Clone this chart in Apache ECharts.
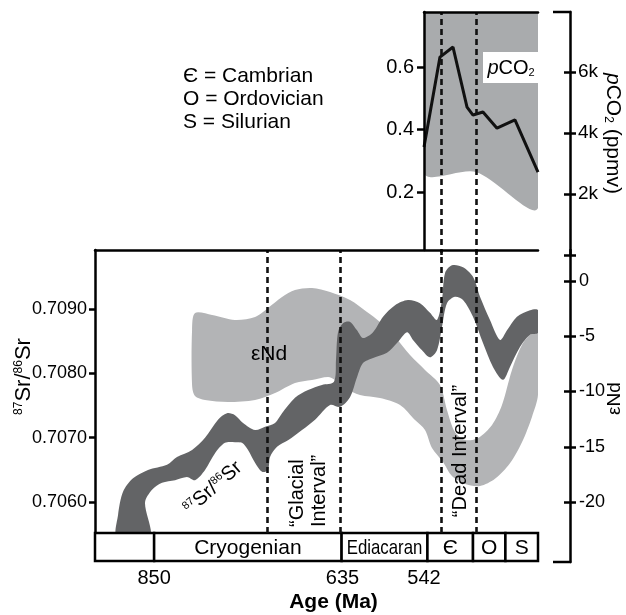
<!DOCTYPE html>
<html>
<head>
<meta charset="utf-8">
<script src="https://cdn.jsdelivr.net/npm/echarts@6/dist/echarts.min.js"></script>
<style>
  html, body { margin: 0; padding: 0; background: #fff; }
  #chart { width: 626px; height: 615px; }
</style>
</head>
<body>
<div id="chart"></div>
<script>
let font = '"Liberation Sans", Arial, Helvetica, sans-serif';

// age axis (Ma), older to the left
let ageMin = 411.8, ageMax = 917.5;
let ageTicks = [850, 635, 542];
let topAgeMax = 541.9;

// geological time scale bar
let periodNames = ['', 'Cryogenian', 'Ediacaran', 'Є', 'O', 'S'];
let periodStart = [917.5, 850, 636, 538, 486, 449];
let periodEnd = [850, 636, 538, 486, 449, 411.8];
let legendLines = ['Є = Cambrian', 'O = Ordovician', 'S = Silurian'];

// dashed interval boundaries
let dashedAges = [721, 637, 522.5, 482.5];
let topDashedAges = [522.5, 482.5];

// 87Sr/86Sr envelope: upper edge (young-ward), then lower edge back
let srBand = [
  [892.3, 0.70545], [891.2, 0.70580], [885.5, 0.70616], [874.1, 0.70637], [857.0, 0.70650],
  [835.3, 0.70658], [823.9, 0.70670], [806.7, 0.70681], [791.9, 0.70700], [777.1, 0.70728],
  [766.8, 0.70738], [757.7, 0.70735], [748.5, 0.70723], [734.8, 0.70712], [723.4, 0.70717],
  [712.0, 0.70723], [704.0, 0.70738], [689.2, 0.70762], [674.3, 0.70774], [658.4, 0.70782],
  [644.7, 0.70787], [642.4, 0.70821], [640.1, 0.70864], [634.4, 0.70878], [626.4, 0.70880],
  [618.4, 0.70867], [611.6, 0.70855], [600.1, 0.70864], [588.7, 0.70888], [575.0, 0.70906],
  [560.2, 0.70914], [546.5, 0.70909], [535.1, 0.70894], [527.1, 0.70883], [521.4, 0.70914],
  [517.9, 0.70956], [510.0, 0.70968], [497.4, 0.70965], [486.0, 0.70950], [478.0, 0.70919],
  [466.6, 0.70883], [455.2, 0.70852], [447.2, 0.70867], [435.8, 0.70888], [420.9, 0.70898],
  [411.8, 0.70898],
  [411.8, 0.70863], [420.9, 0.70860], [432.4, 0.70841], [443.8, 0.70810], [451.8, 0.70790],
  [463.2, 0.70810], [474.6, 0.70847], [486.0, 0.70888], [497.4, 0.70914], [506.6, 0.70919],
  [515.7, 0.70909], [521.4, 0.70872], [527.1, 0.70836], [535.1, 0.70825], [544.2, 0.70836],
  [554.5, 0.70852], [561.3, 0.70864], [572.8, 0.70847], [584.2, 0.70832], [600.1, 0.70824],
  [611.6, 0.70816], [618.4, 0.70794], [626.4, 0.70763], [637.8, 0.70748], [649.2, 0.70751],
  [666.3, 0.70728], [681.2, 0.70712], [697.2, 0.70696], [709.7, 0.70686], [717.7, 0.70670],
  [720.0, 0.70650], [726.8, 0.70647], [734.8, 0.70661], [742.8, 0.70681], [749.7, 0.70692],
  [757.7, 0.70693], [769.1, 0.70692], [780.5, 0.70676], [791.9, 0.70650], [803.3, 0.70634],
  [812.5, 0.70639], [826.1, 0.70634], [841.0, 0.70630], [852.4, 0.70619], [860.4, 0.70599],
  [854.7, 0.70545]
];

// eNd envelope
let ndBand = [
  [806.7, -4.43], [803.3, -2.90], [783.9, -3.08], [757.7, -3.53], [734.8, -3.26],
  [720.0, -2.44], [704.0, -1.45], [689.2, -0.81], [669.8, -0.63], [649.2, -1.00],
  [626.4, -1.72], [607.0, -2.81], [592.2, -3.71], [575.0, -5.07], [557.9, -6.70],
  [540.8, -8.05], [523.7, -9.41], [515.7, -11.67], [506.6, -13.67], [495.1, -14.39],
  [480.3, -14.21], [464.3, -13.03], [452.9, -11.22], [441.5, -8.05], [430.1, -5.79],
  [418.7, -4.71], [411.8, -4.62],
  [411.8, -10.3], [418.7, -12.3], [430.1, -14.6], [443.8, -16.5], [460.9, -17.9],
  [478.0, -18.55], [495.1, -18.37], [510.0, -17.65], [520.2, -16.38], [532.8, -15.11],
  [540.8, -13.48], [552.2, -12.58], [569.3, -11.22], [592.2, -10.59], [615.0, -10.32],
  [632.1, -9.68], [643.5, -8.96], [651.5, -8.69], [669.8, -8.96], [689.2, -9.23],
  [712.0, -10.14], [734.8, -10.77], [765.7, -10.95], [791.9, -10.77], [803.3, -10.41],
  [806.7, -9.41]
];

// pCO2 (ppmv)
let co2Ages = [541.9, 523.7, 508.8, 492.8, 486.0, 474.6, 458.6, 438.1, 411.8];
let co2Values = [3540, 6490, 6820, 4850, 4590, 4690, 4160, 4430, 2720];
let co2EnvAges = [541.9, 482.6, 411.8];
let co2EnvLow = [2690, 2720, 1540];
let co2EnvHigh = [8000, 8000, 8000];

let co2Ticks = [0, 2000, 4000, 6000];
let co2Labels = [2000, 4000, 6000];
let leftTopTicks = [0.2, 0.4, 0.6];
let srTicks = [0.706, 0.707, 0.708, 0.709];
let ndTicks = [0, -5, -10, -15, -20];

let black = '#000';
let axisLineStyle = { color: black, width: 2.5 };
let dashStyle = { color: '#111', width: 2.6, type: [6, 4] };

function polygonItem(points, color) {
  return function (params, api) {
    if (params.dataIndex !== 0) return null;
    return {
      type: 'polygon',
      shape: { points: points.map(p => api.coord(p)), smooth: 0.3 },
      style: { fill: color }
    };
  };
}

function periodItem(params, api) {
  let p0 = api.coord([api.value(0), 1]);
  let p1 = api.coord([api.value(1), 0]);
  let w = p1[0] - p0[0], h = p1[1] - p0[1];
  let name = periodNames[params.dataIndex];
  let narrow = name.length > 6 && w < 100;
  return {
    type: 'group',
    children: [
      { type: 'rect', shape: { x: p0[0], y: p0[1], width: w, height: h },
        style: { fill: '#fff', stroke: black, lineWidth: 2.5 } },
      { type: 'text', x: p0[0] + w / 2, y: p0[1] + h / 2 + 1, scaleX: narrow ? 0.8 : 1,
        style: { text: name, align: 'center', verticalAlign: 'middle', fontSize: 21,
                 fontFamily: font, fill: black } }
    ]
  };
}

let envPoints = co2EnvAges.map((a, i) => [a, co2EnvLow[i]])
  .concat(co2EnvAges.map((a, i) => [a, co2EnvHigh[i]]).reverse());

let hiddenX = { type: 'value', min: ageMin, max: ageMax, inverse: true, show: false };
let gridBase = { outerBoundsMode: 'none', containLabel: false };

let option = {
  animation: false,
  backgroundColor: '#fff',
  grid: [
    Object.assign({ left: 424, right: 88, top: 12, height: 243 }, gridBase),
    Object.assign({ left: 424, right: 88, top: 12, height: 238 }, gridBase),
    Object.assign({ left: 95, right: 88, top: 250, height: 283 }, gridBase),
    Object.assign({ left: 95, right: 88, top: 250, height: 312 }, gridBase),
    Object.assign({ left: 95, right: 88, top: 533, height: 28 }, gridBase)
  ],
  xAxis: [
    { gridIndex: 0, type: 'value', min: ageMin, max: topAgeMax, inverse: true, position: 'top', z: 5,
      axisLine: { show: true, onZero: false, lineStyle: axisLineStyle },
      axisTick: { show: false }, axisLabel: { show: false }, splitLine: { show: false } },
    Object.assign({ gridIndex: 1 }, hiddenX, { max: topAgeMax }),
    { gridIndex: 2, type: 'value', min: ageMin, max: ageMax, inverse: true, position: 'top', z: 5,
      axisLine: { show: true, onZero: false, lineStyle: axisLineStyle },
      axisTick: { show: false }, axisLabel: { show: false }, splitLine: { show: false } },
    Object.assign({ gridIndex: 3 }, hiddenX),
    { gridIndex: 4, type: 'value', min: ageMin, max: ageMax, inverse: true, position: 'bottom',
      axisLine: { show: false }, axisTick: { show: false }, splitLine: { show: false },
      axisLabel: { customValues: ageTicks, fontSize: 20, color: black, fontFamily: font, margin: 7 },
      name: 'Age (Ma)', nameLocation: 'middle', nameGap: 31,
      nameTextStyle: { fontSize: 21, fontWeight: 'bold', color: black, fontFamily: font, padding: [0, 0, 0, 34] } }
  ],
  yAxis: [
    { gridIndex: 0, type: 'value', min: 0, max: 7970, position: 'right', offset: 32, z: 5,
      axisLine: { show: true, onZero: false, lineStyle: axisLineStyle },
      axisTick: { show: true, length: 6, customValues: co2Ticks, lineStyle: axisLineStyle },
      axisLabel: { customValues: co2Labels, formatter: v => (v / 1000) + 'k', fontSize: 19,
                   color: black, fontFamily: font, margin: 8 },
      splitLine: { show: false },
      name: '{i|p}CO{s|2} (ppmv)', nameLocation: 'middle', nameRotate: -90, nameGap: 32,
      nameTextStyle: { fontSize: 21, color: black, fontFamily: font,
        rich: { i: { fontSize: 21, fontStyle: 'italic', fontFamily: font, color: black },
                s: { fontSize: 12, fontFamily: font, color: black, verticalAlign: 'bottom' } } } },
    { gridIndex: 0, type: 'value', min: 0, max: 7970, position: 'right', offset: 32, z: 5,
      axisLine: { show: false }, axisLabel: { show: false }, splitLine: { show: false },
      axisTick: { show: true, inside: true, length: 6, customValues: co2Ticks, lineStyle: axisLineStyle } },
    { gridIndex: 1, type: 'value', min: 0.016, max: 0.776, position: 'left', z: 5,
      axisLine: { show: true, onZero: false, lineStyle: axisLineStyle },
      axisTick: { show: true, length: 7, customValues: leftTopTicks, lineStyle: axisLineStyle },
      axisLabel: { customValues: leftTopTicks, formatter: v => v.toFixed(1), fontSize: 20,
                   color: black, fontFamily: font, margin: 10 },
      splitLine: { show: false } },
    { gridIndex: 2, type: 'value', min: 0.705519, max: 0.709917, position: 'left', z: 5,
      axisLine: { show: true, onZero: false, lineStyle: axisLineStyle },
      axisTick: { show: true, length: 6, customValues: srTicks, lineStyle: axisLineStyle },
      axisLabel: { customValues: srTicks, formatter: v => v.toFixed(4), fontSize: 18,
                   color: black, fontFamily: font, margin: 8 },
      splitLine: { show: false },
      name: '{s|87}Sr/{s|86}Sr', nameLocation: 'middle', nameRotate: 90, nameGap: 60,
      nameMoveOverlap: false,
      nameTextStyle: { fontSize: 22, color: black, fontFamily: font, padding: [0, 0, 0, 30],
        rich: { s: { fontSize: 12, fontFamily: font, color: black, verticalAlign: 'top' } } } },
    { gridIndex: 3, type: 'value', min: -25.43, max: 2.81, position: 'right', offset: 32, z: 5,
      axisLine: { show: true, onZero: false, lineStyle: axisLineStyle },
      axisTick: { show: true, length: 6, customValues: ndTicks, lineStyle: axisLineStyle },
      axisLabel: { customValues: ndTicks, fontSize: 18, color: black, fontFamily: font, margin: 9 },
      splitLine: { show: false },
      name: 'εNd', nameLocation: 'middle', nameRotate: 90, nameGap: 35,
      nameMoveOverlap: false,
      nameTextStyle: { fontSize: 19, color: black, fontFamily: font, padding: [0, 0, 0, 15] } },
    { gridIndex: 3, type: 'value', min: -25.43, max: 2.81, position: 'right', offset: 32, z: 5,
      axisLine: { show: false }, axisLabel: { show: false }, splitLine: { show: false },
      axisTick: { show: true, inside: true, length: 6, customValues: ndTicks, lineStyle: axisLineStyle } },
    { gridIndex: 4, type: 'value', min: 0, max: 1, show: false }
  ],
  series: [
    { type: 'custom', name: 'pCO2 range', xAxisIndex: 0, yAxisIndex: 0, clip: true, z: 1,
      renderItem: polygonItem(envPoints, '#a9abad'), data: envPoints },
    { type: 'line', name: 'pCO2', xAxisIndex: 0, yAxisIndex: 0, z: 3,
      data: co2Ages.map((a, i) => [a, co2Values[i]]), showSymbol: false,
      lineStyle: { color: '#111', width: 3 },
      markLine: { silent: true, symbol: 'none', label: { show: false }, lineStyle: dashStyle,
        data: topDashedAges.map(a => ({ xAxis: a })) } },
    { type: 'custom', name: 'eNd', xAxisIndex: 3, yAxisIndex: 4, clip: true, z: 1,
      renderItem: polygonItem(ndBand, '#b3b4b6'), data: ndBand },
    { type: 'custom', name: 'Sr', xAxisIndex: 2, yAxisIndex: 3, clip: true, z: 2,
      renderItem: polygonItem(srBand, '#636466'), data: srBand,
      markLine: { silent: true, symbol: 'none', label: { show: false }, lineStyle: dashStyle,
        data: dashedAges.map(a => ({ xAxis: a })) } },
    { type: 'custom', name: 'periods', xAxisIndex: 4, yAxisIndex: 6, z: 3,
      renderItem: periodItem, encode: { x: [0, 1] },
      data: periodStart.map((s, i) => [s, periodEnd[i]]) }
  ],
  graphic: [
    { type: 'line', z: 10, shape: { x1: 553, y1: 12, x2: 571.25, y2: 12 }, style: { stroke: black, lineWidth: 2.5 } },
    { type: 'line', z: 10, shape: { x1: 553, y1: 562, x2: 571.25, y2: 562 }, style: { stroke: black, lineWidth: 2.5 } },
    { type: 'text', z: 10, x: 183, y: 65,
      style: { text: legendLines.join('\n'), fontSize: 21, lineHeight: 23, fontFamily: font, fill: black } },
    { type: 'rect', z: 10, shape: { x: 483, y: 52, width: 55, height: 31 }, style: { fill: '#fff' } },
    { type: 'text', z: 11, x: 511, y: 68,
      style: { text: '{i|p}CO{s|2}', align: 'center', verticalAlign: 'middle', fontSize: 20,
               fontFamily: font, fill: black,
               rich: { i: { fontSize: 20, fontStyle: 'italic', fontFamily: font, fill: black },
                       s: { fontSize: 11, fontFamily: font, fill: black, verticalAlign: 'bottom' } } } },
    { type: 'text', z: 10, x: 269, y: 354,
      style: { text: 'εNd', align: 'center', verticalAlign: 'middle', fontSize: 21, fontFamily: font, fill: black } },
    { type: 'text', z: 10, x: 213, y: 488, rotation: 0.72,
      style: { text: '{s|87}Sr/{s|86}Sr', align: 'center', verticalAlign: 'middle', fontSize: 20,
               fontFamily: font, fill: black,
               rich: { s: { fontSize: 11, fontFamily: font, fill: black, verticalAlign: 'top' } } } },
    { type: 'text', z: 10, x: 286, y: 527, rotation: Math.PI / 2,
      style: { text: '“Glacial\nInterval”', align: 'left', verticalAlign: 'top', fontSize: 20,
               lineHeight: 22, fontFamily: font, fill: black } },
    { type: 'text', z: 10, x: 460, y: 451, rotation: Math.PI / 2,
      style: { text: '“Dead Interval”', align: 'center', verticalAlign: 'middle', fontSize: 20,
               fontFamily: font, fill: black } }
  ]
};

let chart = echarts.init(document.getElementById('chart'), null, { renderer: 'canvas' });
chart.setOption(option);
</script>
</body>
</html>
